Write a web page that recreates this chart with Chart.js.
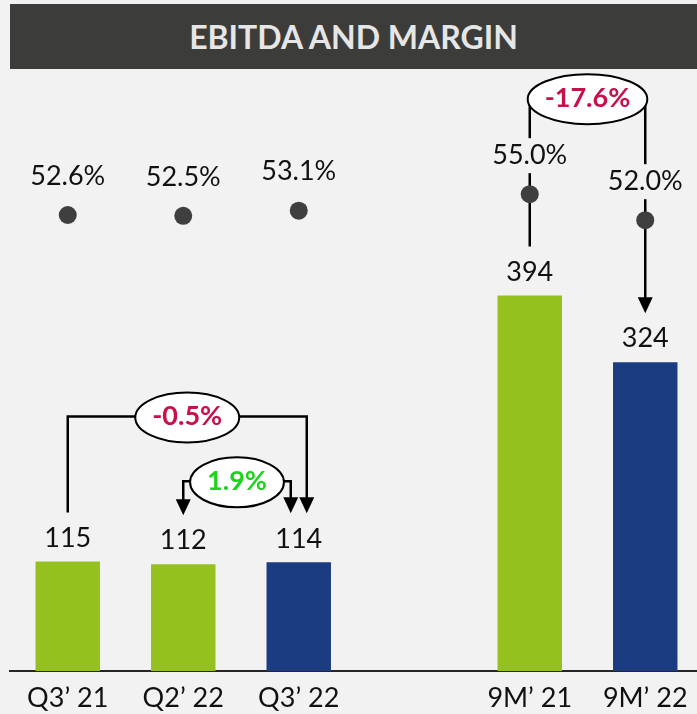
<!DOCTYPE html>
<html>
<head>
<meta charset="utf-8">
<script src="https://cdn.jsdelivr.net/npm/chart.js@4.4.0/dist/chart.umd.min.js"></script>
<style>
    html, body { margin: 0; padding: 0; background: #f2f2f2; width: 697px; height: 714px; overflow: hidden; }
    #ebitdaChart { position: absolute; left: 0; top: 0; }
    #title {
        position: absolute; left: 10px; top: 4px; width: 687px; height: 65px;
        background: #3c3c3a; color: #e6e6e6;
        font: bold 32px Lato, sans-serif;
        display: flex; align-items: center; justify-content: center;
    }
</style>
</head>
<body>
<canvas id="ebitdaChart" width="704" height="714" style="width:704px;height:714px"></canvas>
<div id="title">EBITDA AND MARGIN</div>

<script>
// --- data ---
const categories = ["Q3’ 21", "Q2’ 22", "Q3’ 22", "", "9M’ 21", "9M’ 22"];
const ebitda = [115, 112, 114, null, 394, 324];
const margin = [52.6, 52.5, 53.1, null, 55.0, 52.0];
const currentPeriods = ["Q3’ 22", "9M’ 22"];

// growth brackets: from / to are category indexes, change in %
const changeFrom = [0, 1, 4];
const changeTo = [2, 2, 5];
const changeValue = [-0.5, 1.9, -17.6];

const GREEN = "#95c11f";
const NAVY = "#1c3c82";
const FONT = "Lato";

// bracket drawing settings (level is in EBITDA axis units)
const bracketStyle = [
    { level: 267, toShift: 8, arrowFrom: false },
    { level: 199, toShift: -8, arrowFrom: true },
    { level: 601, toShift: 0, arrowFrom: false },
];

function arrowHead(ctx, x, tipY) {
    ctx.beginPath();
    ctx.moveTo(x, tipY);
    ctx.lineTo(x - 7.5, tipY - 16);
    ctx.lineTo(x + 7.5, tipY - 16);
    ctx.closePath();
    ctx.fill();
}

// lines + arrows go under the margin dots
const bracketLines = {
    id: "bracketLines",
    beforeDatasetsDraw(chart) {
        const { ctx, scales: { x, y } } = chart;
        ctx.save();
        ctx.strokeStyle = "#000";
        ctx.fillStyle = "#000";
        ctx.lineWidth = 2.5;
        changeFrom.forEach((from, i) => {
            const to = changeTo[i];
            const st = bracketStyle[i];
            const x1 = x.getPixelForValue(from);
            const x2 = x.getPixelForValue(to) + st.toShift;
            const lvl = y.getPixelForValue(st.level);
            const end1 = y.getPixelForValue(ebitda[from]) - 49;
            const end2 = y.getPixelForValue(ebitda[to]) - 49;
            ctx.beginPath();
            ctx.moveTo(x1, st.arrowFrom ? end1 - 15 : end1);
            ctx.lineTo(x1, lvl);
            ctx.lineTo(x2, lvl);
            ctx.lineTo(x2, end2 - 15);
            ctx.stroke();
            if (st.arrowFrom) arrowHead(ctx, x1, end1);
            arrowHead(ctx, x2, end2);
        });
        ctx.restore();
    }
};

// value labels, margin labels and the change ellipses on top
const labelsPlugin = {
    id: "labelsPlugin",
    afterDatasetsDraw(chart) {
        const { ctx, scales: { x, y, y2 } } = chart;
        ctx.save();
        ctx.textAlign = "center";
        ctx.textBaseline = "middle";
        ctx.font = `27px ${FONT}`;

        ebitda.forEach((v, i) => {
            if (v == null) return;
            const px = x.getPixelForValue(i);
            ctx.fillStyle = "#111";
            ctx.fillText(String(v), px, y.getPixelForValue(v) - 23.5);
        });

        margin.forEach((v, i) => {
            if (v == null) return;
            const px = x.getPixelForValue(i);
            const py = y2.getPixelForValue(v) - 39;
            const txt = v.toFixed(1) + "%";
            const w = ctx.measureText(txt).width;
            ctx.fillStyle = "#f2f2f2";
            ctx.fillRect(px - w / 2 - 2, py - 17, w + 4, 35);
            ctx.fillStyle = "#111";
            ctx.fillText(txt, px, py);
        });

        ctx.font = `bold 27px ${FONT}`;
        changeFrom.forEach((from, i) => {
            const st = bracketStyle[i];
            const x1 = x.getPixelForValue(from);
            const x2 = x.getPixelForValue(changeTo[i]) + st.toShift;
            const cx = (x1 + x2) / 2;
            const cy = y.getPixelForValue(st.level) + 1;
            const txt = changeValue[i].toFixed(1) + "%";
            const w = ctx.measureText(txt).width;
            ctx.beginPath();
            ctx.ellipse(cx, cy, w / 2 + 17, 25, 0, 0, Math.PI * 2);
            ctx.fillStyle = "#fff";
            ctx.fill();
            ctx.lineWidth = 2;
            ctx.strokeStyle = "#000";
            ctx.stroke();
            ctx.fillStyle = changeValue[i] < 0 ? "#c8104a" : "#1ed21e";
            ctx.fillText(txt, cx, cy - 1);
        });
        ctx.restore();
    }
};

const canvas = document.getElementById("ebitdaChart");
const ctx = canvas.getContext("2d");

new Chart(ctx, {
    data: {
        labels: categories,
        datasets: [
            {
                type: "line",
                label: "Margin",
                data: margin,
                yAxisID: "y2",
                showLine: false,
                pointRadius: 9,
                pointBackgroundColor: "#3f3f3f",
                pointBorderWidth: 0,
                clip: false,
                order: 0,
            },
            {
                type: "bar",
                label: "EBITDA",
                data: ebitda,
                yAxisID: "y",
                backgroundColor: categories.map(c => currentPeriods.includes(c) ? NAVY : GREEN),
                barPercentage: 0.558,
                categoryPercentage: 1,
                order: 1,
            },
        ],
    },
    options: {
        responsive: false,
        maintainAspectRatio: false,
        animation: false,
        layout: { autoPadding: false, padding: { left: 10, right: 1, top: 0, bottom: 0 } },
        plugins: {
            legend: { display: false },
            tooltip: { enabled: false },
        },
        scales: {
            x: {
                offset: true,
                grid: { display: false, drawTicks: false },
                border: { display: true, color: "#262626", width: 2 },
                ticks: { color: "#111", font: { family: FONT, size: 27 }, padding: 11, maxRotation: 0, autoSkip: false },
                afterFit: (axis) => { axis.height = 43; },
            },
            y: { display: false, min: 0, max: 704 },
            y2: { display: false, min: 0, max: 77.4 },
        },
    },
    plugins: [bracketLines, labelsPlugin],
});
</script>
</body>
</html>
